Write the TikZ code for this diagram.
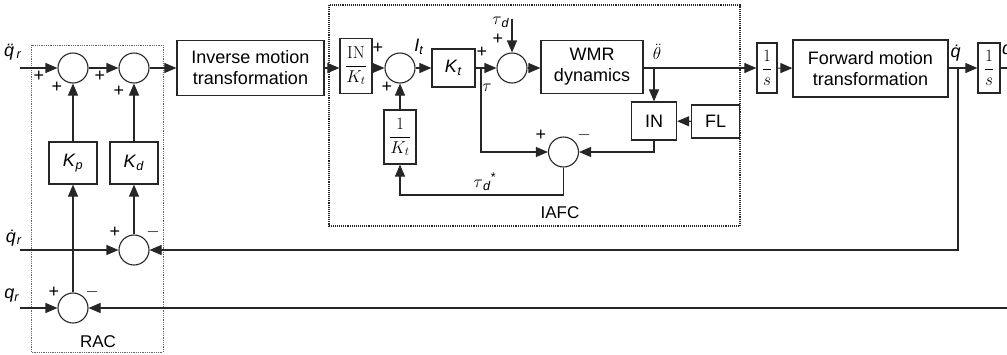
\documentclass[tikz,border=0pt]{standalone}
\usepackage[no-math]{fontspec}
\setmainfont{Liberation Sans}
\usetikzlibrary{arrows.meta,calc}
\begin{document}
\begin{tikzpicture}[x=1pt,y=-1pt,
  every node/.style={font=\fontsize{18}{21}\selectfont},
  blk/.style={draw=black!85,line width=1.2pt,inner sep=0pt,align=center},
  sumc/.style={draw=black!85,line width=1.1pt,circle,minimum size=30pt,inner sep=0pt},
  ln/.style={line width=1.1pt,draw=black!85},
  arr/.style={ln,-{Triangle[length=12pt,width=10pt]}},
  pm/.style={font=\fontsize{18}{18}\selectfont,inner sep=0pt},
  lab/.style={inner sep=0pt},
  grpa/.style={draw=black!60,line width=0.8pt,densely dotted},
  grpb/.style={draw=black!85,line width=1.1pt,densely dotted}
]
\useasboundingbox (0,0) rectangle (1007,354);
% group boxes
\draw[grpa] (31,45) rectangle (163,352);
\draw[grpb] (329,5) rectangle (740,226);
% blocks
\node[sumc] (s1) at (73,68) {};
\node[sumc] (s2) at (134,68) {};
\node[blk,minimum width=147pt,minimum height=55pt] (inv) at (250.5,68) {Inverse motion\\transformation};
\node[blk,minimum width=32pt,minimum height=55pt] (ink) at (356,66) {$\displaystyle\frac{\mathrm{IN}}{K_t}$};
\node[sumc] (s3) at (400,68) {};
\node[blk,minimum width=32pt,minimum height=54pt] (kinv) at (400,137) {$\displaystyle\frac{1}{K_t}$};
\node[blk,minimum width=43pt,minimum height=38pt] (kt) at (453.5,68) {\textit{K}\textsubscript{\textit{t}}};
\node[sumc] (s4) at (512,68) {};
\node[blk,minimum width=102pt,minimum height=53pt] (wmr) at (592,67) {WMR\\dynamics};
\node[blk,minimum width=45pt,minimum height=38pt] (in) at (654,121) {IN};
\node[blk,minimum width=48pt,minimum height=33pt] (fl) at (715.5,121.5) {FL};
\node[sumc] (s5) at (563.5,152) {};
\node[blk,minimum width=20pt,minimum height=50pt] (int1) at (767,68) {$\displaystyle\frac{1}{s}$};
\node[blk,minimum width=155pt,minimum height=57pt] (fwd) at (870.5,68.5) {Forward motion\\transformation};
\node[blk,minimum width=22pt,minimum height=50pt] (int2) at (989,68) {$\displaystyle\frac{1}{s}$};
\node[sumc] (s6) at (134,250) {};
\node[sumc] (s7) at (73,308) {};
\node[blk,minimum width=48pt,minimum height=42pt] (kp) at (73,163) {\textit{K}\textsubscript{\textit{p}}};
\node[blk,minimum width=48pt,minimum height=42pt] (kd) at (134,163) {\textit{K}\textsubscript{\textit{d}}};
% coordinates
\coordinate (qddr) at (20,68);
\coordinate (qdr) at (20,250);
\coordinate (qr) at (20,308);
\coordinate (taud) at (512,19);
\coordinate (b1) at (654,68);
\coordinate (bt) at (481,68);
\coordinate (fb) at (563.5,195);
\coordinate (b2) at (958,68);
\coordinate (qout) at (1010,68);
\coordinate (qin) at (1010,308);
% connectors
\draw[arr] (qddr) -- (s1);
\draw[arr] (s1) -- (s2);
\draw[arr] (s2) -- (inv);
\draw[arr] (inv.east) -- (inv.east -| ink.west);
\draw[arr] (ink.east |- s3) -- (s3);
\draw[arr] (kinv) -- (s3);
\draw[arr] (s3) -- (kt);
\draw[arr] (kt) -- (s4);
\draw[arr] (taud) -- (s4);
\draw[arr] (s4) -- (s4 -| wmr.west);
\draw[arr] (wmr.east |- s4) -- (int1);
\draw[arr] (b1) -- (in);
\draw[arr] (fl) -- (in);
\draw[arr] (in.south) |- (s5);
\draw[arr] (bt) |- (s5);
\draw[arr] (s5.south) -- (fb) -| (kinv.south);
\draw[arr] (int1) -- (fwd);
\draw[arr] (fwd.east |- b2) -- (int2);
\draw[ln] (int2) -- (qout);
\draw[arr] (b2) |- (s6);
\draw[arr] (qin) -- (s7);
\draw[arr] (qdr) -- (s6);
\draw[arr] (qr) -- (s7);
\draw[arr] (s6) -- (kd);
\draw[arr] (kd) -- (s2);
\draw[arr] (s7) -- (kp);
\draw[arr] (kp) -- (s1);
% labels
\node[lab] (lqddr) at (13,52) {\textit{\"q}\textsubscript{\textit{r}}};
\node[pm] (p1) at (39,76) {+};
\node[pm] (p2) at (57,87) {+};
\node[pm] (p3) at (100,76) {+};
\node[pm] (p4) at (119,91) {+};
\node[pm] (p5) at (378,48) {+};
\node[pm] (p6) at (387,87) {+};
\node[lab] (lit) at (419,47) {\textit{I}\textsubscript{\textit{t}}};
\node[pm] (p7) at (482,52) {+};
\node[lab] (ltau) at (487,88) {$\tau$};
\node[lab] (ltaud) at (501,22) {$\tau$\textsubscript{\textit{d}}};
\node[pm] (p8) at (498,39) {+};
\node[lab] (lth) at (657,52) {$\ddot{\theta}$};
\node[pm] (p9) at (541,135) {+};
\node[pm] (m1) at (584,135) {$-$};
\node[lab] (ltds) at (485,182) {$\tau$\textsubscript{\textit{d}}\textsuperscript{*}};
\node[lab,font=\fontsize{17}{17}\selectfont] (liafc) at (560,213) {IAFC};
\node[lab] (lqd) at (956,53) {\textit{\.q}};
\node[lab,anchor=west] (lq) at (1002,52) {\textit{q}};
\node[lab] (lqdr) at (14,238) {\textit{\.q}\textsubscript{\textit{r}}};
\node[pm] (p10) at (115,232) {+};
\node[pm] (m2) at (153,232) {$-$};
\node[lab] (lqr) at (12,296) {\textit{q}\textsubscript{\textit{r}}};
\node[pm] (p11) at (54,292) {+};
\node[pm] (m3) at (92,292) {$-$};
\node[lab,font=\fontsize{17}{17}\selectfont] (lrac) at (98,342) {RAC};
\end{tikzpicture}
\end{document}
